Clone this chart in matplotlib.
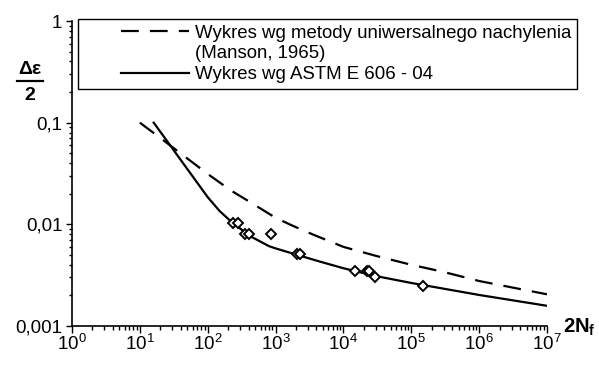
#!/usr/bin/env python3
"""Strain amplitude vs. reversals to failure: universal slopes vs. ASTM E 606."""

import math
import matplotlib
matplotlib.use("Agg")
import matplotlib.pyplot as plt
from matplotlib.legend_handler import HandlerLine2D
from matplotlib.lines import Line2D
from matplotlib.ticker import FixedLocator, FuncFormatter, LogLocator, NullFormatter

# Manson universal slopes curve
manson_n = [10, 21, 43, 100, 218, 400, 1000, 1840, 3620, 1e4, 3e4, 1e5, 3e5, 1e6, 1e7]
manson_eps = [0.100, 0.069, 0.048, 0.0313, 0.0216, 0.0169, 0.0116, 0.0096, 0.0079,
              0.0060, 0.0049, 0.0040, 0.0034, 0.00277, 0.00205]

# ASTM E 606-04 fit
astm_n = [16, 100, 150, 230, 430, 800, 1000, 2100, 4500, 1e4, 3e4, 1e5, 1e6, 1e7]
astm_eps = [0.100, 0.0185, 0.0135, 0.0104, 0.0076, 0.0061, 0.0058, 0.0050, 0.0043,
            0.0037, 0.0031, 0.00265, 0.00202, 0.00158]

# test points
test_n = [233, 280, 350, 400, 850, 2100, 2330, 15000, 22000, 23500, 29500, 150000]
test_eps = [0.0102, 0.0102, 0.0081, 0.0081, 0.0081, 0.0051, 0.0051, 0.0035,
            0.0035, 0.0035, 0.0030, 0.0025]

x_ticks = [1e0, 1e1, 1e2, 1e3, 1e4, 1e5, 1e6, 1e7]
y_ticks = [0.001, 0.01, 0.1, 1]
y_labels = ["0,001", "0,01", "0,1", "1"]

LEG_MANSON = "Wykres wg metody uniwersalnego nachylenia"
LEG_MANSON2 = "(Manson, 1965)"
LEG_ASTM = "Wykres wg ASTM E 606 - 04"


class RightHandler(HandlerLine2D):
    """Legend line drawn only over the right part of the handle box."""

    def get_xdata(self, legend, xdescent, ydescent, width, height, fontsize):
        x0 = -xdescent + 0.35 * width
        return [x0, -xdescent + width], [0.5 * (x0 - xdescent + width)]


def main():
    plt.rcParams["font.family"] = ["Liberation Sans", "DejaVu Sans"]
    plt.rcParams["mathtext.fontset"] = "custom"
    plt.rcParams["mathtext.rm"] = "Liberation Sans"
    plt.rcParams["mathtext.bf"] = "Liberation Sans:bold"
    plt.rcParams["mathtext.default"] = "regular"

    fig = plt.figure(figsize=(5.99, 3.65), dpi=100)
    ax = fig.add_axes([72 / 599, 1 - 326 / 365, (547 - 72) / 599, (326 - 21) / 365])

    ax.plot(manson_n, manson_eps, color="black", lw=1.6, dashes=(8, 5))
    ax.plot(astm_n, astm_eps, color="black", lw=1.6)
    ax.plot(test_n, test_eps, linestyle="none", marker="D", markersize=5,
            markerfacecolor="white", markeredgecolor="black", markeredgewidth=1.4)

    ax.set_xscale("log")
    ax.set_yscale("log")
    ax.set_xlim(1, 1e7)
    ax.set_ylim(0.001, 1)

    ax.xaxis.set_major_locator(FixedLocator(x_ticks))
    ax.xaxis.set_major_formatter(FuncFormatter(lambda v, p: r"$10^{%d}$" % round(math.log10(v))))
    ax.xaxis.set_minor_locator(LogLocator(base=10, subs=range(2, 10), numticks=20))
    ax.xaxis.set_minor_formatter(NullFormatter())
    ax.yaxis.set_major_locator(FixedLocator(y_ticks))
    ax.set_yticklabels(y_labels)
    ax.yaxis.set_minor_locator(LogLocator(base=10, subs=range(2, 10), numticks=20))
    ax.yaxis.set_minor_formatter(NullFormatter())

    for s in ("top", "right"):
        ax.spines[s].set_visible(False)
    for s in ("left", "bottom"):
        ax.spines[s].set_linewidth(1.2)

    ax.tick_params(axis="x", which="major", direction="out", length=5, width=1, labelsize=13.5, pad=1)
    ax.tick_params(axis="x", which="minor", direction="out", length=3, width=1)
    ax.tick_params(axis="y", which="major", direction="out", length=4, width=1, labelsize=13.5, pad=3)
    ax.tick_params(axis="y", which="minor", direction="out", length=2.5, width=1)

    # axis labels
    fig.text(563 / 599, 1 - 327 / 365, r"$\mathbf{2N_{f}}$", fontsize=14.5, ha="left", va="center")
    fig.text(30 / 599, 1 - 70 / 365, "Δε", fontsize=14, fontweight="bold", ha="center", va="center")
    fig.text(30 / 599, 1 - 95 / 365, "2", fontsize=14, fontweight="bold", ha="center", va="center")
    fig.add_artist(Line2D([17 / 599, 43 / 599], [1 - 81 / 365, 1 - 81 / 365], color="black", lw=1.6))

    handles = [
        Line2D([], [], color="black", lw=1.6, dashes=(8, 5)),
        Line2D([], [], linestyle="none"),
        Line2D([], [], color="black", lw=1.6),
    ]
    leg = ax.legend(handles, [LEG_MANSON, LEG_MANSON2, LEG_ASTM],
                    handler_map={Line2D: RightHandler()},
                    loc="upper left", bbox_to_anchor=(78 / 599, 1 - 19 / 365),
                    bbox_transform=fig.transFigure, borderaxespad=0,
                    fontsize=13.4, handlelength=5.68, handletextpad=0.32,
                    labelspacing=0.2, borderpad=0.3, fancybox=False,
                    framealpha=1, edgecolor="black")
    leg.get_frame().set_linewidth(1.0)

    fig.savefig("out.png", dpi=100)


if __name__ == "__main__":
    main()
